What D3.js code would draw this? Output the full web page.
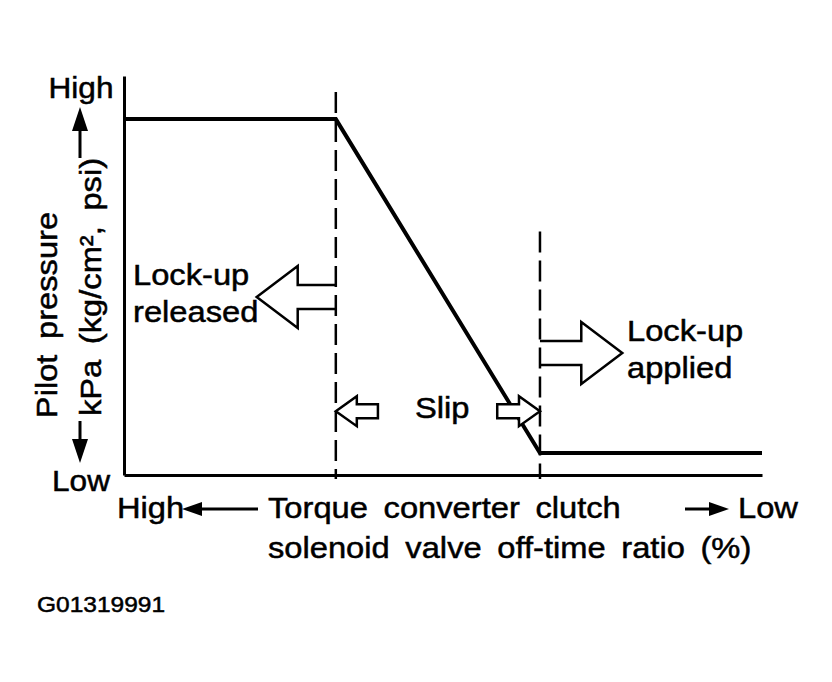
<!DOCTYPE html>
<html>
<head>
<meta charset="utf-8">
<script src="https://cdn.jsdelivr.net/npm/d3@7"></script>
<style>
  body { margin: 0; background: #fff; }
  text { font-family: "Liberation Sans", Arial, sans-serif; fill: #000; stroke: #000; stroke-width: 0.5px; }
</style>
</head>
<body>
<div id="chart"></div>
<script>
// Pilot pressure vs. off-time ratio (schematic, 0..100 units on both axes)
let curveX = [0, 33.2, 65.2, 100];
let curveY = [89.2, 89.2, 5.5, 5.5];

// dashed boundaries: lock-up released | slip | lock-up applied
let boundaryX = [33.2, 65.2];
let boundaryTop = [96, 61];

// annotation arrows: from x, to x (tip), y, size
let arrowFrom = [33.2, 65.2, 39.8, 58.5];
let arrowTo = [20.8, 78.1, 33.2, 65.2];
let arrowY = [44.6, 30.6, 16.0, 16.0];
let arrowSize = ["big", "big", "small", "small"];
let arrowClosed = [false, false, true, true];

let yLabels = ["Pilot pressure", "kPa (kg/cm², psi)"];
let xLabels = ["Torque converter clutch", "solenoid valve off-time ratio (%)"];
let endLabels = ["High", "Low"];
let figureId = "G01319991";

let width = 832;
let height = 682;
let margin = { top: 76, right: 70, bottom: 207, left: 124 };
// the scanned lettering is a bit wider than Liberation Sans
let stretch = 1.09;

let svg = d3
    .select("#chart")
    .append("svg")
    .attr("width", width)
    .attr("height", height);

let x = d3
    .scaleLinear()
    .domain([0, 100])
    .range([margin.left, width - margin.right]);

let y = d3
    .scaleLinear()
    .domain([0, 100])
    .range([height - margin.bottom, margin.top]);

function arrowPoints(x0, x1, yy, headLen, headHalf, shaftHalf) {
    let dir = x1 > x0 ? 1 : -1;
    let xb = x1 - dir * headLen;
    return [
        [x0, yy - shaftHalf],
        [xb, yy - shaftHalf],
        [xb, yy - headHalf],
        [x1, yy],
        [xb, yy + headHalf],
        [xb, yy + shaftHalf],
        [x0, yy + shaftHalf]
    ];
}

function addText(str, tx, ty, size, opts) {
    opts = opts || {};
    let rot = opts.rotate ? ` rotate(${opts.rotate})` : "";
    return svg.append("text")
        .attr("transform", `translate(${tx},${ty})${rot} scale(${stretch},1)`)
        .attr("text-anchor", opts.anchor || "start")
        .style("font-size", size + "px")
        .style("word-spacing", (opts.wordSpacing || 0) + "px")
        .text(str);
}

function drawAxes() {
    // plain axes, no ticks
    svg.append("g")
        .attr("transform", `translate(0,${y(0)})`)
        .call(d3.axisBottom(x).ticks(0).tickSize(0).tickSizeOuter(0))
        .call((g) => g.select(".domain").attr("stroke", "#000").attr("stroke-width", 3));

    svg.append("g")
        .attr("transform", `translate(${x(0)},0)`)
        .call(d3.axisLeft(y).ticks(0).tickSize(0).tickSizeOuter(0))
        .call((g) => g.select(".domain").attr("stroke", "#000").attr("stroke-width", 3));
}

function drawBoundaries() {
    svg.selectAll("line.boundary")
        .data(boundaryX)
        .join("line")
        .attr("class", "boundary")
        .attr("x1", (d) => x(d))
        .attr("x2", (d) => x(d))
        .attr("y1", (d, i) => y(boundaryTop[i]))
        .attr("y2", y(-1))
        .attr("stroke", "#000")
        .attr("stroke-width", 2.5)
        .attr("stroke-dasharray", "21,8");
}

function drawCurve() {
    let line = d3
        .line()
        .x((d) => x(d[0]))
        .y((d) => y(d[1]));

    svg.append("path")
        .datum(d3.zip(curveX, curveY))
        .attr("d", line)
        .attr("fill", "none")
        .attr("stroke", "#000")
        .attr("stroke-width", 4)
        .attr("stroke-linejoin", "miter");
}

function drawArrows() {
    let sizes = {
        big: { headLen: 41, headHalf: 31, shaftHalf: 12 },
        small: { headLen: 21, headHalf: 15, shaftHalf: 7 }
    };
    arrowFrom.forEach((from, i) => {
        let s = sizes[arrowSize[i]];
        let pts = arrowPoints(x(from), x(arrowTo[i]), y(arrowY[i]), s.headLen, s.headHalf, s.shaftHalf);
        let path = d3.line()(pts) + (arrowClosed[i] ? "Z" : "");
        svg.append("path")
            .attr("d", path)
            .attr("fill", arrowClosed[i] ? "#fff" : "none")
            .attr("stroke", "#000")
            .attr("stroke-width", 2.5)
            .attr("stroke-linejoin", "miter");
    });
}

function solidArrow(x1, y1, x2, y2, headLen, headHalf) {
    // line with filled triangle at (x2, y2)
    let a = Math.atan2(y2 - y1, x2 - x1);
    let bx = x2 - headLen * Math.cos(a);
    let by = y2 - headLen * Math.sin(a);
    svg.append("line")
        .attr("x1", x1).attr("y1", y1)
        .attr("x2", bx).attr("y2", by)
        .attr("stroke", "#000")
        .attr("stroke-width", 3);
    let nx = -Math.sin(a) * headHalf;
    let ny = Math.cos(a) * headHalf;
    svg.append("path")
        .attr("d", `M${x2},${y2}L${bx + nx},${by + ny}L${bx - nx},${by - ny}Z`)
        .attr("fill", "#000");
}

function drawLabels() {
    let fs = 30;

    // region labels
    addText("Lock-up", 133, 285, fs);
    addText("released", 133, 322, fs);
    addText("Lock-up", 627, 341, fs);
    addText("applied", 627, 378, fs);
    addText("Slip", 415, 418, fs);

    // y axis ends
    addText(endLabels[0], 81, 98, 29, { anchor: "middle" });
    addText(endLabels[1], 81, 491, 29, { anchor: "middle" });

    // rotated y labels
    addText(yLabels[0], 57, 315, fs, { rotate: -90, anchor: "middle", wordSpacing: 6 });
    addText(yLabels[1], 101, 287, fs, { rotate: -90, anchor: "middle", wordSpacing: 6 });

    solidArrow(80, 158, 80, 107, 24, 8);
    solidArrow(80, 421, 80, 463, 24, 8);

    // x axis labels
    addText(xLabels[0], 268, 518, fs, { wordSpacing: 6 });
    addText(xLabels[1], 268, 558, fs, { wordSpacing: 6 });

    addText(endLabels[0], 117, 518, fs);
    addText(endLabels[1], 738, 518, fs);

    solidArrow(258, 509, 182, 509, 20, 7);
    solidArrow(685, 509, 729, 509, 20, 7);

    addText(figureId, 37, 612, 22.5);
}

drawBoundaries();
drawCurve();
drawArrows();
drawAxes();
drawLabels();
</script>
</body>
</html>
